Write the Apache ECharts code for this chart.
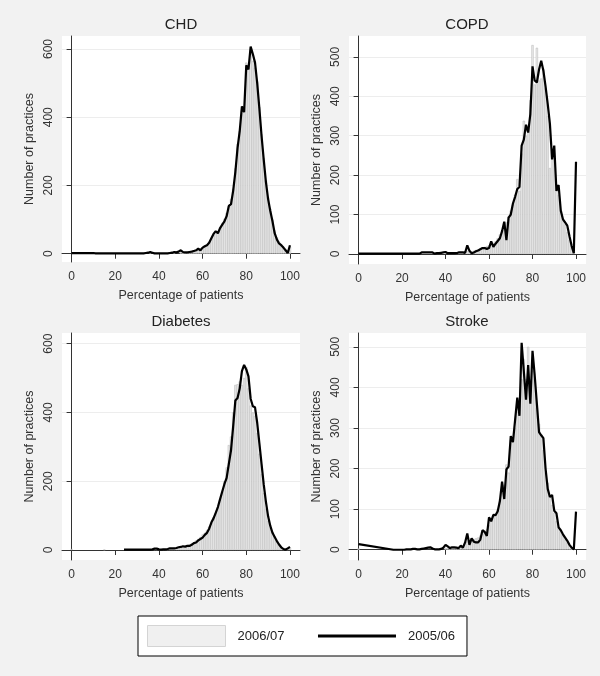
<!DOCTYPE html>
<html>
<head>
<meta charset="utf-8">
<script src="https://cdn.jsdelivr.net/npm/echarts@6/dist/echarts.min.js"></script>
<style>
html,body{margin:0;padding:0;background:#f2f2f2;}
#chart{width:600px;height:676px;}
</style>
</head>
<body>
<div id="chart"></div>
<script>
// ---- data (index = percentage of patients, 0..100) ----
const panelTitles = ['CHD', 'COPD', 'Diabetes', 'Stroke'];
const seriesNames = ['2006/07', '2005/06'];
const xTicks = [0, 20, 40, 60, 80, 100];
const yTicksA = [0, 200, 400, 600];
const yTicksB = [0, 100, 200, 300, 400, 500];

const chdLine = [2,2,2,2,2,2,2,2,2,2, 2,1,1,1,1,1,1,1,1,1, 1,1,1,1,1,1,1,1,1,1, 1,1,1,1,2,3,5,3,1,1,
  1,1,1,1,1,2,3,5,4,6, 10,5,4,4,5,6,8,10,15,10, 18,22,25,32,45,58,66,60,75,85,
  95,110,140,145,185,240,310,360,432,415, 552,540,607,585,560,500,425,345,275,210,
  160,125,95,60,42,30,25,18,10,2, 25];
const chdBars = [0,0,0,0,0,0,0,0,0,0, 0,0,0,0,0,0,0,0,0,0, 0,0,0,0,0,0,0,0,0,0, 0,0,0,0,0,0,2,0,0,0,
  0,0,0,0,0,0,0,2,0,0, 4,3,3,4,5,6,8,10,12,14, 18,22,26,34,45,55,62,66,78,90,
  102,120,140,160,190,250,322,360,420,430, 560,550,598,565,545,505,430,350,280,215,
  165,132,100,68,48,36,28,20,12,6, 20];

const copdLine = [1,1,1,1,1,1,1,1,1,1, 1,1,1,1,1,1,1,1,1,1, 1,1,1,1,1,1,1,1,1,4, 4,4,4,4,4,1,2,2,3,4,
  5,2,2,2,2,2,4,4,4,3, 22,8,2,4,7,9,12,15,15,13, 15,32,18,26,33,40,58,82,35,92,
  100,128,145,165,170,275,290,328,308,355, 476,440,435,468,490,465,425,380,330,240,
  275,160,175,110,88,80,72,45,20,2, 234];
const copdBars = [0,0,0,0,0,0,0,0,0,0, 0,0,0,0,0,0,0,0,0,0, 0,0,0,0,0,0,0,0,0,0, 0,0,0,0,0,0,0,0,0,0,
  0,0,0,0,0,3,5,5,4,5, 8,6,6,8,10,12,14,15,18,20, 22,25,28,32,40,50,60,70,80,95,
  110,125,150,190,160,255,338,300,320,390, 530,430,523,440,445,470,420,350,218,260,
  250,170,150,110,85,75,55,35,15,5, 0];

const diabLine = [null,null,null,null,null,null,null,null,null,null, null,null,null,null,null,null,null,null,null,null,
  null,null,null,null,1,1,1,1,1,1, 1,1,1,1,1,1,1,2,4,4,
  2,1,2,2,3,5,5,5,6,8, 9,11,10,12,12,15,20,22,28,32, 36,44,50,62,80,92,108,125,148,170,
  192,210,250,290,360,435,442,470,520,538, 525,505,440,418,415,370,310,250,190,140,
  98,70,50,38,26,16,8,3,1,5, 9];
const diabBars = [3,0,0,0,0,0,0,0,0,0, 0,0,0,0,0,1,0,0,0,0, 0,0,0,0,0,0,0,0,0,0, 0,0,0,0,0,0,0,0,2,2,
  2,2,3,3,4,4,5,6,7,8, 10,10,12,14,16,20,22,28,32,38, 45,50,58,68,80,95,110,125,145,170,
  200,240,305,330,400,480,482,490,480,500, 532,470,420,400,390,340,280,220,165,120,
  85,65,50,40,28,18,10,6,4,5, 6];

const strokeLine = [14,null,null,null,null,null,null,null,null,null, null,null,null,null,null,null,0,0,0,0,
  0,0,1,1,1,2,2,1,1,2, 3,4,5,6,3,1,1,1,2,5,
  12,8,4,6,6,5,4,10,5,18, 40,12,28,20,18,18,25,48,44,34, 80,70,86,85,95,120,168,125,198,205,
  280,265,320,375,330,510,440,370,455,360, 490,430,360,290,282,275,200,150,130,135,
  96,90,55,48,38,30,22,12,5,1, 94];
const strokeBars = [3,0,0,0,0,0,0,0,0,0, 0,0,0,0,0,0,0,0,0,0, 0,0,0,0,0,0,0,0,0,0, 0,0,0,0,0,0,0,0,0,0,
  5,4,4,5,5,6,6,8,10,15, 20,22,24,26,28,30,35,38,42,50, 60,70,80,90,100,125,150,160,210,190,
  270,265,300,340,360,420,470,420,500,400, 440,420,350,310,280,245,190,165,135,110,
  90,70,55,45,35,25,18,10,5,2, 0];

const panelLines = [chdLine, copdLine, diabLine, strokeLine];
const panelBars = [chdBars, copdBars, diabBars, strokeBars];
const panelYTicks = [yTicksA, yTicksB, yTicksA, yTicksB];

// ---- layout ----
const grids = [
  {left: 62, top: 36, width: 238, height: 226},
  {left: 349, top: 36, width: 237, height: 228},
  {left: 62, top: 333, width: 238, height: 227},
  {left: 349, top: 333, width: 237, height: 227}
];
const yRanges = [[-24.3, 638], [-25.4, 553], [-29, 631], [-25.3, 534]];
const titlePos = [[181, 17], [467, 17], [181, 314], [467, 314]];
const FONT = '"Liberation Sans", Arial, Helvetica, sans-serif';
const AXIS = '#333';

const option = {
  backgroundColor: '#f2f2f2',
  animation: false,
  textStyle: {fontFamily: FONT},
  title: panelTitles.map((t, i) => ({
    text: t, left: titlePos[i][0], top: titlePos[i][1], textAlign: 'center', padding: 0,
    textStyle: {fontSize: 15, fontWeight: 'normal', color: '#222', fontFamily: FONT}
  })),
  legend: {
    left: 138, top: 616, orient: 'horizontal',
    padding: [9, 12, 9, 9], itemWidth: 78, itemHeight: 21, itemGap: 32,
    backgroundColor: '#fff', borderColor: '#000', borderWidth: 1, borderRadius: 0,
    textStyle: {fontSize: 13, color: '#222', padding: [0, 0, 0, 7], fontFamily: FONT},
    data: [
      {name: seriesNames[0], icon: 'rect', itemStyle: {color: '#f0f0f0', borderColor: '#d4d4d4', borderWidth: 1}},
      {name: seriesNames[1], itemStyle: {opacity: 0}, lineStyle: {color: '#000', width: 3}}
    ]
  },
  grid: grids.map(g => Object.assign({show: true, backgroundColor: '#fff', borderWidth: 0}, g)),
  xAxis: grids.map((g, i) => ({
    type: 'value', gridIndex: i, min: -4.4, max: 104.6,
    axisLine: {show: true, lineStyle: {color: AXIS, width: 1}},
    axisTick: {show: true, customValues: xTicks, length: 5, lineStyle: {color: AXIS}},
    axisLabel: {customValues: xTicks, color: '#333', fontSize: 12, margin: 9, fontFamily: FONT},
    splitLine: {show: false},
    name: 'Percentage of patients', nameLocation: 'middle', nameGap: 27,
    nameTextStyle: {fontSize: 12.5, color: '#333', fontFamily: FONT}
  })),
  yAxis: grids.map((g, i) => ({
    type: 'value', gridIndex: i, min: yRanges[i][0], max: yRanges[i][1],
    axisLine: {show: true, lineStyle: {color: AXIS, width: 1}},
    axisTick: {show: true, customValues: panelYTicks[i], length: 5, lineStyle: {color: AXIS}},
    axisLabel: {customValues: panelYTicks[i], rotate: 90, color: '#333', fontSize: 12, margin: 7, fontFamily: FONT},
    splitLine: {show: true, lineStyle: {color: '#ededed', width: 1}},
    name: 'Number of practices', nameLocation: 'middle', nameGap: 26,
    nameTextStyle: {fontSize: 12.5, color: '#333', fontFamily: FONT}
  })),
  series: []
};

panelBars.forEach((arr, i) => {
  option.series.push({
    name: seriesNames[0], type: 'bar', xAxisIndex: i, yAxisIndex: i,
    barWidth: 2.2, barGap: '-100%',
    itemStyle: {color: '#ebebeb', borderColor: '#b5b5b5', borderWidth: 0.5},
    data: arr.map((v, x) => [x, v]).filter(d => d[1] !== null && d[1] > 0),
    z: 2
  });
});
panelLines.forEach((arr, i) => {
  option.series.push({
    name: seriesNames[1], type: 'line', xAxisIndex: i, yAxisIndex: i,
    symbol: 'none', showSymbol: false, connectNulls: true,
    lineStyle: {color: '#000', width: 2.2},
    itemStyle: {color: '#000'},
    data: arr.map((v, x) => [x, v]),
    z: 3
  });
});

const chart = echarts.init(document.getElementById('chart'), null, {renderer: 'canvas'});
chart.setOption(option);
</script>
</body>
</html>
